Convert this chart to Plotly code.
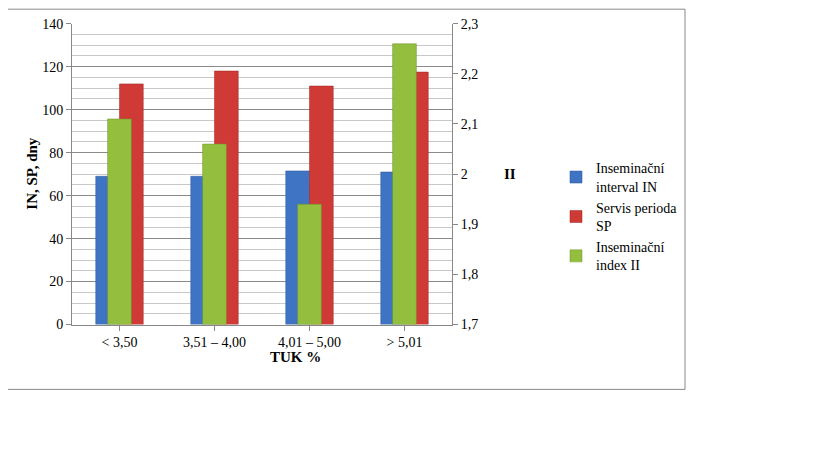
import plotly.graph_objects as go

categories = ["< 3,50", "3,51 – 4,00", "4,01 – 5,00", "> 5,01"]
interval_in = [69, 69, 71.5, 71]
servis_sp = [112, 118, 111, 117.5]
index_ii = [2.11, 2.06, 1.94, 2.26]
names = ["Inseminační<br>interval IN", "Servis perioda<br>SP", "Inseminační<br>index II"]

FONT = "Liberation Serif"
W, H = 819, 460
OFF = 8  # page body margin
x0, x1, y0, y1 = 72 - OFF, 452 - OFF, 17 - OFF, 328 - OFF


def px(x):
    return (x - OFF) / W


def py(y):
    return 1 - (y - OFF) / H


fig = go.Figure()
fig.add_bar(x=categories, y=interval_in, name=names[0], offset=-0.25, width=0.25,
            marker=dict(color="#3f74c4", line=dict(color="#2a5597", width=0.5)))
fig.add_bar(x=categories, y=servis_sp, name=names[1], offset=0.0, width=0.25,
            marker=dict(color="#d03a36", line=dict(color="#9c2622", width=0.5)))
fig.add_bar(x=categories, y=index_ii, name=names[2], offset=-0.125, width=0.25, yaxis="y2",
            marker=dict(color="#94bf3e", line=dict(color="#6d902a", width=0.5)))

tick_font = dict(family=FONT, size=14, color="black")
fig.update_layout(
    width=W, height=H, paper_bgcolor="white", plot_bgcolor="white",
    margin=dict(l=0, r=0, t=0, b=0), barmode="overlay",
    font=dict(family=FONT, size=14, color="black"),
    separators=", ",
    xaxis=dict(domain=[x0 / W, x1 / W], tickfont=tick_font, showline=True,
               linecolor="#888", ticks="outside", ticklen=5, tickcolor="#888"),
    yaxis=dict(domain=[1 - y1 / H, 1 - y0 / H], range=[0, 140], dtick=20,
               tickfont=tick_font, showline=True, linecolor="#888", ticks="outside",
               ticklen=5, tickcolor="#888", gridcolor="#8a8a8a", zeroline=False,
               minor=dict(dtick=5, showgrid=True, gridcolor="#c8c8c8")),
    yaxis2=dict(overlaying="y", side="right", range=[1.7, 2.3], dtick=0.1,
                tickfont=tick_font, showline=True, linecolor="#888", ticks="outside",
                ticklen=5, tickcolor="#888", showgrid=False, zeroline=False),
    legend=dict(x=px(556), y=py(150), xanchor="left", yanchor="top",
                font=dict(family=FONT, size=14), tracegroupgap=12,
                bgcolor="rgba(0,0,0,0)"),
    shapes=[dict(type="rect", xref="paper", yref="paper", x0=px(2), x1=px(685),
                 y0=py(395), y1=py(2), line=dict(color="#888", width=1))],
    annotations=[
        dict(text="<b>IN, SP, dny</b>", xref="paper", yref="paper", x=px(22),
             y=py(172), textangle=-90, showarrow=False, font=dict(size=15)),
        dict(text="<b>II</b>", xref="paper", yref="paper", x=px(510),
             y=py(172), showarrow=False, font=dict(size=15)),
        dict(text="<b>TUK %</b>", xref="paper", yref="paper", x=px(268),
             y=py(372), showarrow=False, font=dict(size=15)),
    ],
)
fig.write_html("out.html")
